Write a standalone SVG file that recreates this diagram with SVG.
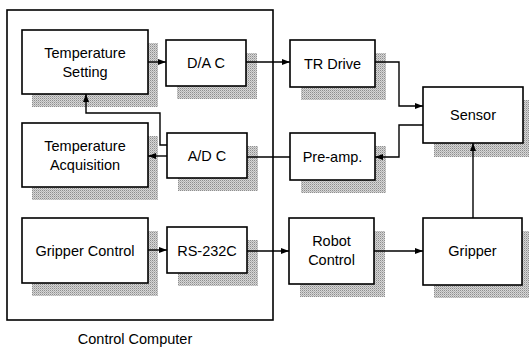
<svg xmlns="http://www.w3.org/2000/svg" width="529" height="348" viewBox="0 0 529 348">
<defs>
<pattern id="dither" width="2" height="2" patternUnits="userSpaceOnUse">
<rect width="2" height="2" fill="#d6d6d6"/>
<rect width="1" height="1" fill="#8e8e8e"/>
<rect x="1" y="1" width="1" height="1" fill="#b4b4b4"/>
</pattern>
<marker id="arr" markerWidth="8" markerHeight="6" refX="8" refY="3" orient="auto" markerUnits="userSpaceOnUse">
<path d="M0,0 L8,3 L0,6 Z" fill="#000"/>
</marker>
</defs>
<style>
.box{fill:#fff;stroke:#000;stroke-width:1.6}
.sh{fill:url(#dither);stroke:none}
.t{font-family:"Liberation Sans",Arial,sans-serif;font-size:14.5px;fill:#000;text-anchor:middle}
.c{fill:none;stroke:#000;stroke-width:1.4}
.frame{fill:none;stroke:#000;stroke-width:1.6}
</style>
<rect width="529" height="348" fill="#fff"/>

<g id="control-computer">
<rect class="frame" x="7" y="10" width="266" height="310"/>
<text class="t" x="135" y="344">Control Computer</text>
</g>

<g id="temperature-setting">
<rect class="sh" x="32" y="43" width="126" height="64"/>
<rect class="box" x="22" y="30" width="126" height="64"/>
<text class="t" x="85" y="57.5">Temperature</text>
<text class="t" x="85" y="76.5">Setting</text>
</g>

<g id="dac">
<rect class="sh" x="177" y="53" width="80" height="46"/>
<rect class="box" x="166" y="40" width="80" height="46"/>
<text class="t" x="206" y="68">D/A C</text>
</g>

<g id="temperature-acquisition">
<rect class="sh" x="32" y="136" width="126" height="64"/>
<rect class="box" x="22" y="123" width="126" height="64"/>
<text class="t" x="85" y="150.5">Temperature</text>
<text class="t" x="85" y="169.5">Acquisition</text>
</g>

<g id="adc">
<rect class="sh" x="178" y="146" width="80" height="45"/>
<rect class="box" x="167" y="133" width="80" height="45"/>
<text class="t" x="207" y="161">A/D C</text>
</g>

<g id="gripper-control">
<rect class="sh" x="32" y="231" width="126" height="65"/>
<rect class="box" x="22" y="218" width="126" height="65"/>
<text class="t" x="85" y="255.5">Gripper Control</text>
</g>

<g id="rs232c">
<rect class="sh" x="178" y="240" width="80" height="46"/>
<rect class="box" x="167" y="227" width="80" height="46"/>
<text class="t" x="207" y="255.5">RS-232C</text>
</g>

<g id="tr-drive">
<rect class="sh" x="301" y="53" width="85" height="47"/>
<rect class="box" x="290" y="40" width="85" height="47"/>
<text class="t" x="332.5" y="68.5">TR Drive</text>
</g>

<g id="pre-amp">
<rect class="sh" x="301" y="146" width="85" height="47"/>
<rect class="box" x="290" y="133" width="85" height="47"/>
<text class="t" x="332.5" y="161.5">Pre-amp.</text>
</g>

<g id="sensor">
<rect class="sh" x="434" y="100" width="100" height="57"/>
<rect class="box" x="423" y="87" width="100" height="56"/>
<text class="t" x="473" y="120">Sensor</text>
</g>

<g id="robot-control">
<rect class="sh" x="300" y="231" width="85" height="66"/>
<rect class="box" x="289" y="218" width="85" height="66"/>
<text class="t" x="331.5" y="246">Robot</text>
<text class="t" x="331.5" y="265">Control</text>
</g>

<g id="gripper">
<rect class="sh" x="434" y="231" width="99" height="67"/>
<rect class="box" x="423" y="218" width="99" height="67"/>
<text class="t" x="472.5" y="256">Gripper</text>
</g>

<g id="connectors">
<line class="c" x1="148" y1="62" x2="166" y2="62" marker-end="url(#arr)"/>
<line class="c" x1="246" y1="62" x2="290" y2="62" marker-end="url(#arr)"/>
<polyline class="c" points="375,62 399,62 399,106 423,106" marker-end="url(#arr)"/>
<polyline class="c" points="423,125 399,125 399,157 375,157" marker-end="url(#arr)"/>
<line class="c" x1="290" y1="157" x2="247" y2="157"/>
<line class="c" x1="167" y1="156" x2="148" y2="156" marker-end="url(#arr)"/>
<polyline class="c" points="167,145 160,145 160,113 86,113 86,94" marker-end="url(#arr)"/>
<line class="c" x1="148" y1="250" x2="167" y2="250" marker-end="url(#arr)"/>
<line class="c" x1="247" y1="251" x2="289" y2="251" marker-end="url(#arr)"/>
<line class="c" x1="374" y1="251" x2="423" y2="251" marker-end="url(#arr)"/>
<line class="c" x1="473" y1="218" x2="473" y2="143" marker-end="url(#arr)"/>
</g>
</svg>
